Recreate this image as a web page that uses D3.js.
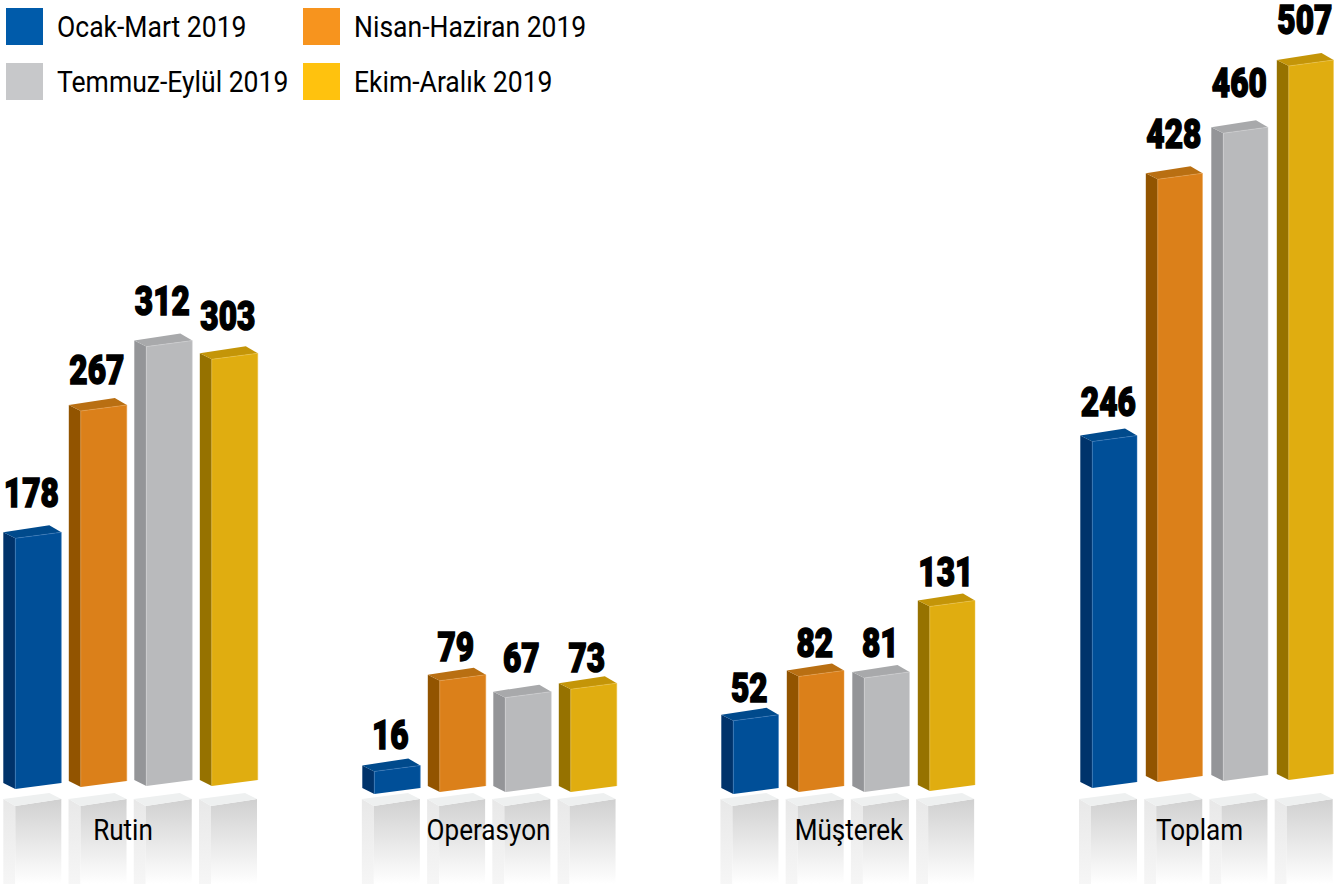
<!DOCTYPE html>
<html><head><meta charset="utf-8">
<script src="https://cdn.jsdelivr.net/npm/d3@7/dist/d3.min.js"></script>
<style>html,body{margin:0;padding:0;background:#fff}svg{display:block}</style>
</head><body><svg id="c" width="1344" height="884"></svg>
<script>
const categories = ["Rutin","Operasyon","Müşterek","Toplam"];
const seriesNames = ["Ocak-Mart 2019","Nisan-Haziran 2019","Temmuz-Eylül 2019","Ekim-Aralık 2019"];
const rutin = [178,267,312,303];
const operasyon = [16,79,67,73];
const musterek = [52,82,81,131];
const toplam = [246,428,460,507];
const values = [rutin,operasyon,musterek,toplam];
const legendColors = ["#005baa","#f7941e","#c7c8ca","#ffc20e"];
const frontColors = ["#004f98","#db801a","#b9babc","#e0ad10"];
const sideColors = ["#00336b","#925400","#949598","#967200"];
const topColors = ["#004a8c","#b96f12","#a8a9ab","#c49508"];
const edgeColors = ["#3f7fc0","#eda552","#d4d5d6","#f0c850"];
// perspective of the floor: front-left corner y of each bar
const floorY = [[789,787,786,786],[794,792,792,792],[794,792,792,791],[788,782,781,780]];
// distance from the bar's front-top corner to the baseline of its label
const labelGap = [[30.6,26,30.6,28.6],[21.5,19,25,16.5],[18,18.5,20,19.5],[24.5,31,35,31.5]];
// perspective narrows the bars slightly toward the right of the picture
const frontWidth = [46,46,45.2,44.7];

const svg = d3.select("#c");
const defs = svg.append("defs");
const grad = (id,a,b)=>{const g=defs.append("linearGradient").attr("id",id).attr("x1",0).attr("y1",0).attr("x2",0).attr("y2",1);
  g.append("stop").attr("offset",0).attr("stop-color",a);g.append("stop").attr("offset",1).attr("stop-color",b);};
grad("gFront","#d0d0d0","#ffffff"); grad("gSide","#e8e8e8","#f6f6f6");

const xGroup = d3.scalePoint().domain(categories).range([3.3,1080.3]);
const xInner = d3.scalePoint().domain(seriesNames).range([0,196.5]);
const xGhostGroup = d3.scalePoint().domain(categories).range([3.3,1079]);
const xGhostInner = d3.scalePoint().domain(seriesNames).range([0,195.7]);
const h = d3.scaleLinear().domain([0,507]).range([0,714]);
const SIDE=12, GHOST_FRONT=46, RISE=6, BACK=13;
const poly = pts => pts.map(p=>p.join(",")).join(" ");

// ghost pedestals
categories.forEach(c=>seriesNames.forEach(s=>{
  const x=xGhostGroup(c)+xGhostInner(s), y=806, b=884, F=GHOST_FRONT;
  const g=svg.append("g");
  g.append("polygon").attr("points",poly([[x,y-RISE-1],[x+SIDE,y],[x+SIDE,b],[x,b]])).attr("fill","url(#gSide)");
  g.append("polygon").attr("points",poly([[x+SIDE,y],[x+SIDE+F,y-RISE-1],[x+SIDE+F,b],[x+SIDE,b]])).attr("fill","url(#gFront)");
  g.append("polygon").attr("points",poly([[x,y-RISE-1],[x+SIDE,y],[x+SIDE+F,y-RISE-1],[x+F,y-BACK]])).attr("fill","#eef0f0");
}));

// bars
categories.forEach((c,ci)=>seriesNames.forEach((s,si)=>{
  const v=values[ci][si], x=xGroup(c)+xInner(s), b=floorY[ci][si], y=b-h(v), F=frontWidth[ci];
  const g=svg.append("g");
  g.append("polygon").attr("points",poly([[x,y-RISE],[x+SIDE,y],[x+SIDE,b],[x,b-RISE]])).attr("fill",sideColors[si]);
  g.append("polygon").attr("points",poly([[x+SIDE,y],[x+SIDE+F,y-RISE],[x+SIDE+F,b-RISE],[x+SIDE,b]])).attr("fill",frontColors[si]);
  g.append("polygon").attr("points",poly([[x,y-RISE],[x+SIDE,y],[x+SIDE+F,y-RISE],[x+F,y-BACK]])).attr("fill",topColors[si]);
  g.append("polyline").attr("points",poly([[x+SIDE,b],[x+SIDE,y],[x+SIDE+F,y-RISE],[x+SIDE+F,b-RISE]]))
    .attr("fill","none").attr("stroke",edgeColors[si]).attr("stroke-width",0.5);
  const tx=x+28, ty=y-labelGap[ci][si]-0.7;
  svg.append("text").attr("transform",`translate(${tx},${ty}) scale(0.79,1)`)
    .attr("text-anchor","middle").attr("font-family","Roboto").attr("font-weight",900).attr("font-size",40)
    .attr("stroke","#000").attr("stroke-width",1.5).attr("fill","#000").text(v);
}));

// category labels
const catCenter = [123,488.5,849,1199.5];
categories.forEach((c,i)=>{
  svg.append("text").attr("transform",`translate(${catCenter[i]},840) scale(0.9,1)`)
   .attr("text-anchor","middle").attr("font-family","Roboto").attr("font-size",29).attr("fill","#000").text(c);
});

// legend
const legendX=[6,303], legendY=[8,63], legendTextX=[57,354];
seriesNames.forEach((s,i)=>{
  const col=i%2,row=i>>1;
  svg.append("rect").attr("x",legendX[col]).attr("y",legendY[row]).attr("width",37).attr("height",37).attr("fill",legendColors[i]);
  svg.append("text").attr("transform",`translate(${legendTextX[col]},${legendY[row]+28.5}) scale(0.885,1)`)
    .attr("font-family","Roboto").attr("font-size",30).attr("fill","#000").text(s);
});
</script></body></html>
